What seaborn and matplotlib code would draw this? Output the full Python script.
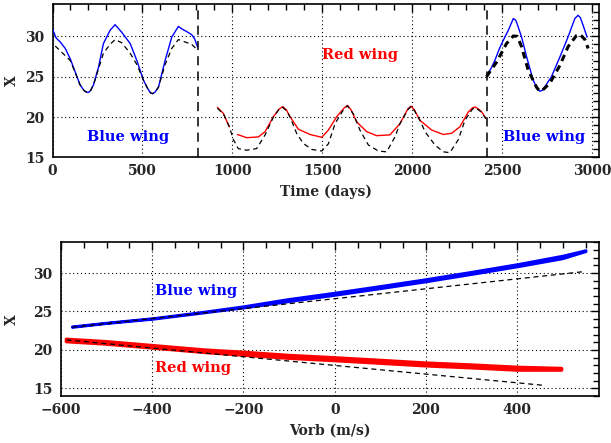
import numpy as np
import pandas as pd
import matplotlib
matplotlib.use("Agg")
import matplotlib.pyplot as plt
import seaborn as sns
from matplotlib.ticker import MultipleLocator

# ---------------- data: top panel (X versus time) ----------------
blue1_t = [0, 20, 43, 71, 99, 126, 153, 175, 188, 200, 212, 228, 256, 283, 320, 348, 385,
           432, 469, 505, 530, 545, 557, 570, 589, 626, 663, 700, 720, 745, 774, 790, 806]
blue1_x = [30.9, 29.8, 29.3, 28.5, 27.2, 25.6, 24.0, 23.3, 23.1, 23.05, 23.3, 24.0, 26.2,
           29.1, 30.74, 31.44, 30.5, 29.1, 27.0, 24.6, 23.5, 23.0, 22.9, 23.1, 23.7, 27.0,
           29.9, 31.23, 30.9, 30.6, 30.2, 29.7, 28.7]
dash1_t = [15, 43, 71, 99, 126, 153, 175, 188, 200, 212, 228, 256, 283, 320, 348, 385,
           432, 469, 505, 530, 545, 557, 570, 589, 626, 663, 700, 737, 774, 806]
dash1_x = [28.8, 28.2, 27.6, 27.0, 25.5, 24.0, 23.3, 23.1, 23.05, 23.3, 24.0, 26.0, 27.9,
           29.0, 29.6, 29.2, 27.9, 26.5, 24.6, 23.5, 23.0, 22.9, 23.1, 23.7, 26.5, 28.5,
           29.6, 29.3, 29.0, 28.3]

redA_t = [917, 950, 983]
redA_x = [21.2, 20.45, 18.8]
redB_t = [1028, 1080, 1145, 1182, 1228, 1260, 1280, 1300, 1321, 1367, 1432, 1497, 1534,
          1580, 1620, 1640, 1660, 1691, 1747, 1802, 1876, 1932, 1975, 1993, 2012, 2043,
          2108, 2173, 2219, 2265, 2312, 2335, 2350, 2368, 2386, 2409]
redB_x = [17.85, 17.45, 17.55, 18.2, 20.05, 21.0, 21.3, 20.9, 20.05, 18.5, 17.85, 17.5,
          18.4, 20.05, 21.1, 21.45, 20.9, 19.4, 18.2, 17.7, 17.8, 19.2, 21.0, 21.35, 20.9,
          19.6, 18.4, 17.85, 18.0, 18.8, 20.65, 21.15, 21.25, 21.0, 20.65, 19.85]
dashr_t = [917, 950, 983, 1006, 1033, 1080, 1135, 1182, 1228, 1260, 1280, 1300, 1321,
           1357, 1394, 1441, 1497, 1534, 1571, 1620, 1640, 1660, 1675, 1709, 1756, 1812,
           1858, 1904, 1932, 1975, 1993, 2012, 2043, 2071, 2126, 2173, 2209, 2256, 2293,
           2335, 2350, 2368, 2386, 2409]
dashr_x = [21.1, 20.4, 18.8, 17.2, 16.1, 15.9, 16.1, 17.8, 20.0, 21.0, 21.2, 20.8, 20.0,
           18.0, 16.75, 16.0, 15.8, 16.7, 19.2, 21.0, 21.4, 20.8, 20.3, 18.4, 16.55, 15.8,
           15.7, 17.55, 19.2, 20.9, 21.3, 20.8, 19.6, 18.2, 16.55, 15.7, 15.6, 17.2, 19.6,
           21.0, 21.15, 20.9, 20.6, 19.8]

blue2_t = [2413, 2440, 2459, 2485, 2506, 2534, 2562, 2575, 2584, 2608, 2636, 2672, 2695,
           2709, 2722, 2737, 2774, 2821, 2866, 2904, 2922, 2935, 2950, 2972]
blue2_x = [25.06, 26.1, 27.0, 28.5, 29.5, 30.74, 32.2, 32.0, 31.5, 29.9, 27.45, 24.6,
           23.5, 23.2, 23.3, 23.75, 25.0, 27.45, 29.9, 32.2, 32.6, 32.3, 31.36, 29.9]
dash2_t = [2413, 2440, 2469, 2500, 2524, 2562, 2584, 2608, 2645, 2691, 2709, 2722, 2737,
           2765, 2821, 2866, 2913, 2932, 2960, 2978]
dash2_x = [25.0, 25.9, 26.8, 28.1, 29.1, 30.04, 30.0, 28.7, 25.8, 23.7, 23.2, 23.3,
           23.6, 24.2, 26.4, 28.7, 30.1, 30.25, 29.6, 28.5]

boundaries_t = [808, 2413]

# ---------------- data: bottom panel (X versus Vorb) ----------------
blue_v = [-575, -500, -398, -300, -199, -102, -4, 100, 201, 300, 401, 500, 551]
blue_hi = [23.0, 23.48, 24.07, 24.8, 25.62, 26.55, 27.35, 28.25, 29.15, 30.1, 31.1, 32.2, 32.92]
blue_lo = [22.92, 23.42, 23.98, 24.7, 25.45, 26.25, 27.05, 27.95, 28.85, 29.8, 30.8, 31.85, 32.78]
blue_fit_v = [-575, 544]
blue_fit_x = [22.95, 30.17]

red_v = [-588, -504, -394, -285, -199, -102, -4, 100, 201, 300, 401, 497]
red_hi = [21.35, 21.05, 20.5, 19.95, 19.65, 19.25, 18.95, 18.6, 18.25, 18.0, 17.7, 17.55]
red_lo = [21.1, 20.8, 20.25, 19.7, 19.35, 18.95, 18.65, 18.3, 17.95, 17.7, 17.4, 17.4]
red_fit_v = [-588, 456]
red_fit_x = [21.3, 15.4]

# ---------------- style ----------------
sns.set_style("white")
plt.rcParams["font.family"] = ["DejaVu Serif"]
plt.rcParams["font.weight"] = "bold"
plt.rcParams["axes.labelweight"] = "bold"
plt.rcParams["font.size"] = 10

BLUE = "#0000ff"
RED = "#ff0000"
DASH = (0, (4, 3))

fig = plt.figure(figsize=(6.11, 4.43), dpi=100)
ax1 = fig.add_axes([52.5 / 611, 1 - 157.5 / 443, (599.3 - 52.5) / 611, 153.5 / 443])
ax2 = fig.add_axes([61 / 611, 1 - 396 / 443, (599.3 - 61) / 611, 153.7 / 443])


def line(ax, x, y, **kw):
    sns.lineplot(x=list(x), y=list(y), ax=ax, sort=False, estimator=None,
                 legend=False, **kw)


# top panel
line(ax1, blue1_t, blue1_x, color=BLUE, lw=1.0, zorder=3)
line(ax1, redA_t, redA_x, color=RED, lw=1.0, zorder=3)
line(ax1, redB_t, redB_x, color=RED, lw=1.0, zorder=3)
line(ax1, blue2_t, blue2_x, color=BLUE, lw=1.0, zorder=3)
line(ax1, dash1_t, dash1_x, color="black", lw=0.9, linestyle=DASH, zorder=4)
line(ax1, dashr_t, dashr_x, color="black", lw=0.9, linestyle=DASH, zorder=4)
line(ax1, dash2_t, dash2_x, color="black", lw=2.2, linestyle=(0, (2.2, 1.6)), zorder=4)
for b in boundaries_t:
    ax1.axvline(b, color="black", lw=1.1, linestyle=(0, (6, 4)), zorder=5)

ax1.set_xlim(0, 3040)
ax1.set_ylim(15, 34)
ax1.xaxis.set_major_locator(MultipleLocator(500))
ax1.xaxis.set_minor_locator(MultipleLocator(100))
ax1.yaxis.set_major_locator(MultipleLocator(5))
ax1.yaxis.set_minor_locator(MultipleLocator(1))
ax1.set_xlabel("Time (days)")
ax1.set_ylabel("X")
ax1.text(420, 17.5, "Blue wing", color=BLUE, ha="center", va="center", fontsize=10.5)
ax1.text(2731, 17.5, "Blue wing", color=BLUE, ha="center", va="center", fontsize=10.5)
ax1.text(1712, 27.65, "Red wing", color=RED, ha="center", va="center", fontsize=10.5)

# bottom panel
line(ax2, blue_v + blue_v[::-1], blue_hi + blue_lo[::-1], color=BLUE, lw=2.0, zorder=3)
line(ax2, red_v + red_v[::-1], red_hi + red_lo[::-1], color=RED, lw=2.8, zorder=3)
line(ax2, blue_fit_v, blue_fit_x, color="black", lw=0.9, linestyle=DASH, zorder=4)
line(ax2, red_fit_v, red_fit_x, color="black", lw=0.9, linestyle=DASH, zorder=4)

ax2.set_xlim(-600, 580)
ax2.set_ylim(14, 34)
ax2.xaxis.set_major_locator(MultipleLocator(200))
ax2.xaxis.set_minor_locator(MultipleLocator(50))
ax2.yaxis.set_major_locator(MultipleLocator(5))
ax2.yaxis.set_minor_locator(MultipleLocator(1))
ax2.set_xlabel("Vorb (m/s)")
ax2.set_ylabel("X")
ax2.text(-304, 27.63, "Blue wing", color=BLUE, ha="center", va="center", fontsize=10.5)
ax2.text(-311, 17.6, "Red wing", color=RED, ha="center", va="center", fontsize=10.5)

for ax, ylab_x in ((ax1, -0.074), (ax2, -0.091)):
    ax.grid(True, which="major", color="black", linestyle=(0, (1, 2.5)), lw=0.8)
    ax.set_axisbelow(True)
    for s in ax.spines.values():
        s.set_visible(True)
        s.set_color("black")
        s.set_linewidth(1.2)
    ax.tick_params(which="both", direction="in", top=True, right=True,
                   color="black", width=1.0)
    ax.tick_params(which="major", length=5.5)
    ax.tick_params(which="minor", length=4.5)
    ax.tick_params(axis="x", which="major", pad=5, labelsize=10)
    ax.tick_params(axis="y", which="major", pad=6, labelsize=10)
    ax.yaxis.set_label_coords(ylab_x, 0.5)
    ax.yaxis.label.set_va("center")
    ax.xaxis.label.set_va("center")
    ax.xaxis.set_label_coords(0.5, -0.223)

fig.savefig("out.png", dpi=100)
